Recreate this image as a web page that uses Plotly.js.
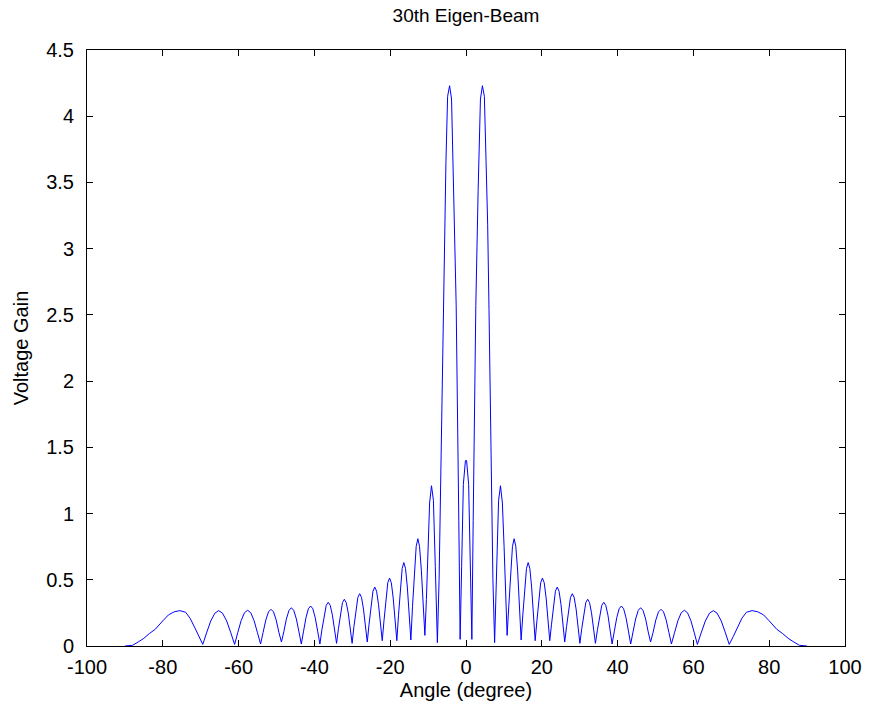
<!DOCTYPE html>
<html>
<head>
<meta charset="utf-8">
<script src="https://cdn.plot.ly/plotly-3.0.1.min.js"></script>
<style>
  html, body { margin: 0; padding: 0; background: #fff; }
  #chart { width: 869px; height: 713px; }
</style>
</head>
<body>
<div id="chart"></div>
<script>
// Beam pattern samples (angle in degrees, voltage gain)
const angleDeg = [
  -90, -88, -86.5, -85, -83.5, -82, -80, -78.5, -77, -75.5, -74, -72.8, -71.5, -70.5,
  -69.45, -68.45, -67.35, -66.25, -65.25, -64.25, -63.15, -62.05,
  -61.05, -60.23, -59.34, -58.45, -57.62, -56.79, -55.91, -55.02,
  -54.2, -53.54, -52.82, -52.11, -51.45, -50.79, -50.08, -49.36,
  -48.7, -48.07, -47.39, -46.7, -46.08, -45.45, -44.76, -44.08,
  -43.45, -42.86, -42.22, -41.59, -41.0, -40.41, -39.78, -39.14,
  -38.55, -38.02, -37.45, -36.88, -36.35, -35.82, -35.25, -34.68,
  -34.15, -33.66, -33.12, -32.59, -32.1, -31.61, -31.07, -30.54,
  -30.05, -29.57, -29.05, -28.53, -28.05, -27.57, -27.05, -26.53,
  -26.05, -25.58, -25.06, -24.55, -24.07, -23.59, -23.09, -22.57,
  -22.1, -21.64, -21.14, -20.64, -20.17, -19.7, -19.21, -18.71,
  -18.25, -17.81, -17.32, -16.84, -16.4, -15.96, -15.48, -14.99,
  -14.55, -14.11, -13.62, -13.14, -12.7, -12.26, -11.78, -11.29,
  -10.85, -10.45, -10.05, -9.6, -9.1, -8.6, -8.1,
  -7.55, -7.1, -6.51, -6.07, -5.72, -5.29, -4.85, -4.33, -3.81, -3.2, -2.59, -1.9,
  -1.55, -1.15, -0.7, -0.15, 0.15, 0.7, 1.15,
  1.55, 1.9, 2.59, 3.2, 3.81, 4.33, 4.85, 5.29, 5.72, 6.07, 6.51, 7.1,
  7.55, 8.1, 8.6, 9.1, 9.6, 10.05, 10.45,
  10.85, 11.29, 11.78, 12.26, 12.7, 13.14, 13.62, 14.11,
  14.55, 14.99, 15.48, 15.96, 16.4, 16.84, 17.32, 17.81,
  18.25, 18.71, 19.21, 19.7, 20.17, 20.64, 21.14, 21.64,
  22.1, 22.57, 23.09, 23.59, 24.07, 24.55, 25.06, 25.58,
  26.05, 26.53, 27.05, 27.57, 28.05, 28.53, 29.05, 29.57,
  30.05, 30.54, 31.07, 31.61, 32.1, 32.59, 33.12, 33.66,
  34.15, 34.68, 35.25, 35.82, 36.35, 36.88, 37.45, 38.02,
  38.55, 39.14, 39.78, 40.41, 41.0, 41.59, 42.22, 42.86,
  43.45, 44.08, 44.76, 45.45, 46.08, 46.7, 47.39, 48.07,
  48.7, 49.36, 50.08, 50.79, 51.45, 52.11, 52.82, 53.54,
  54.2, 55.02, 55.91, 56.79, 57.62, 58.45, 59.34, 60.23,
  61.05, 62.05, 63.15, 64.25, 65.25, 66.25, 67.35, 68.45,
  69.45, 70.5, 71.5, 72.8, 74, 75.5, 77, 78.5, 80, 82, 83.5, 85, 86.5, 88, 90
];
const voltageGain = [
  0.0, 0.005, 0.03, 0.058, 0.095, 0.126, 0.19, 0.235, 0.258, 0.267, 0.255, 0.21, 0.135, 0.07,
  0.012, 0.099, 0.189, 0.248, 0.267, 0.248, 0.189, 0.099,
  0.012, 0.1, 0.191, 0.251, 0.27, 0.251, 0.191, 0.1,
  0.015, 0.102, 0.196, 0.258, 0.277, 0.258, 0.196, 0.102,
  0.03, 0.107, 0.204, 0.269, 0.289, 0.269, 0.204, 0.107,
  0.015, 0.112, 0.214, 0.281, 0.302, 0.281, 0.214, 0.112,
  0.015, 0.122, 0.233, 0.307, 0.33, 0.307, 0.233, 0.122,
  0.02, 0.131, 0.25, 0.328, 0.353, 0.328, 0.25, 0.131,
  0.02, 0.146, 0.279, 0.367, 0.395, 0.367, 0.279, 0.146,
  0.03, 0.165, 0.315, 0.414, 0.445, 0.414, 0.315, 0.165,
  0.04, 0.19, 0.363, 0.477, 0.513, 0.477, 0.363, 0.19,
  0.04, 0.233, 0.445, 0.586, 0.63, 0.586, 0.445, 0.233,
  0.045, 0.3, 0.573, 0.753, 0.81, 0.753, 0.573, 0.3,
  0.08, 0.35, 0.75, 1.08, 1.21, 1.1, 0.6,
  0.025, 0.5, 1.53, 2.54, 3.18, 3.66, 4.15, 4.23, 4.13, 3.44, 2.57, 0.95,
  0.05, 0.6, 1.22, 1.40, 1.40, 1.22, 0.6,
  0.05, 0.95, 2.57, 3.44, 4.13, 4.23, 4.15, 3.66, 3.18, 2.54, 1.53, 0.5,
  0.025, 0.6, 1.1, 1.21, 1.08, 0.75, 0.35,
  0.08, 0.3, 0.573, 0.753, 0.81, 0.753, 0.573, 0.3,
  0.045, 0.233, 0.445, 0.586, 0.63, 0.586, 0.445, 0.233,
  0.04, 0.19, 0.363, 0.477, 0.513, 0.477, 0.363, 0.19,
  0.04, 0.165, 0.315, 0.414, 0.445, 0.414, 0.315, 0.165,
  0.03, 0.146, 0.279, 0.367, 0.395, 0.367, 0.279, 0.146,
  0.02, 0.131, 0.25, 0.328, 0.353, 0.328, 0.25, 0.131,
  0.02, 0.122, 0.233, 0.307, 0.33, 0.307, 0.233, 0.122,
  0.015, 0.112, 0.214, 0.281, 0.302, 0.281, 0.214, 0.112,
  0.015, 0.107, 0.204, 0.269, 0.289, 0.269, 0.204, 0.107,
  0.03, 0.102, 0.196, 0.258, 0.277, 0.258, 0.196, 0.102,
  0.015, 0.1, 0.191, 0.251, 0.27, 0.251, 0.191, 0.1,
  0.012, 0.099, 0.189, 0.248, 0.267, 0.248, 0.189, 0.099,
  0.012, 0.07, 0.135, 0.21, 0.255, 0.267, 0.258, 0.235, 0.19, 0.126, 0.095, 0.058, 0.03, 0.005, 0.0
];

const xTickVals = [-100, -80, -60, -40, -20, 0, 20, 40, 60, 80, 100];
const xTickText = ['-100', '-80', '-60', '-40', '-20', '0', '20', '40', '60', '80', '100'];
const yTickVals = [0, 0.5, 1, 1.5, 2, 2.5, 3, 3.5, 4, 4.5];
const yTickText = ['0', '0.5', '1', '1.5', '2', '2.5', '3', '3.5', '4', '4.5'];

const fontFamily = 'Liberation Sans, Arial, Helvetica, sans-serif';

const trace = {
  x: angleDeg,
  y: voltageGain,
  type: 'scatter',
  mode: 'lines',
  line: { color: '#0000ff', width: 1 },
  hoverinfo: 'x+y'
};

const layout = {
  width: 869,
  height: 713,
  paper_bgcolor: '#ffffff',
  plot_bgcolor: '#ffffff',
  margin: { l: 87, r: 24, t: 50, b: 67 },
  showlegend: false,
  font: { family: fontFamily, color: '#000', size: 20 },
  title: {
    text: '30th Eigen-Beam',
    font: { family: fontFamily, size: 19, color: '#000' },
    x: 466 / 869, xanchor: 'center',
    y: 1 - 15 / 713, yanchor: 'middle'
  },
  xaxis: {
    range: [-100, 100],
    tickmode: 'array',
    tickvals: xTickVals,
    ticktext: xTickText,
    ticks: 'inside',
    ticklen: 6,
    tickcolor: '#000',
    tickwidth: 1,
    showline: true,
    linecolor: '#000',
    linewidth: 1,
    mirror: 'ticks',
    showgrid: false,
    zeroline: false,
    ticklabelstandoff: 3,
    tickfont: { family: fontFamily, size: 20, color: '#000' },
    title: { text: 'Angle (degree)', font: { family: fontFamily, size: 20, color: '#000' }, standoff: 5 }
  },
  yaxis: {
    range: [0, 4.5],
    tickmode: 'array',
    tickvals: yTickVals,
    ticktext: yTickText,
    ticks: 'inside',
    ticklen: 6,
    tickcolor: '#000',
    tickwidth: 1,
    showline: true,
    linecolor: '#000',
    linewidth: 1,
    mirror: 'ticks',
    showgrid: false,
    zeroline: false,
    ticklabelstandoff: 8,
    tickfont: { family: fontFamily, size: 20, color: '#000' },
    title: { text: 'Voltage Gain', font: { family: fontFamily, size: 20, color: '#000' }, standoff: 12 }
  }
};

Plotly.newPlot('chart', [trace], layout, { displayModeBar: false, staticPlot: true });
</script>
</body>
</html>
